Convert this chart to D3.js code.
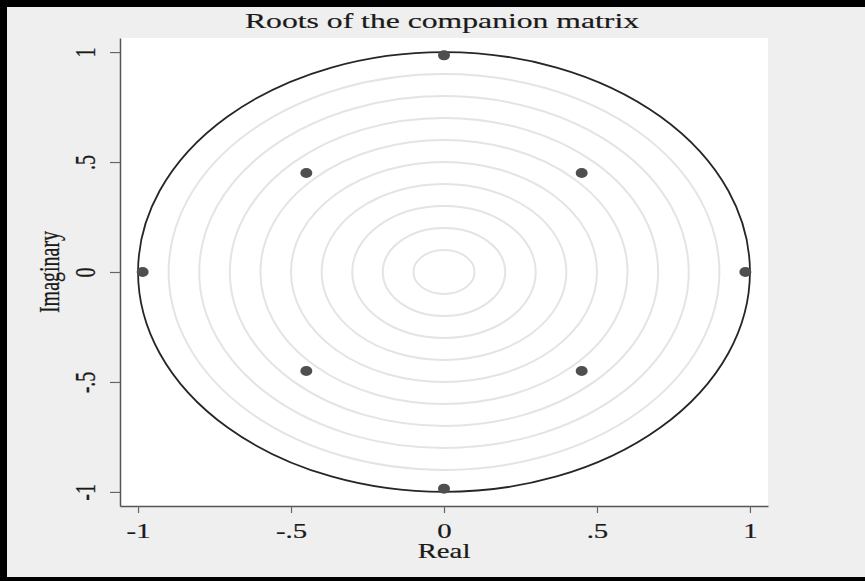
<!DOCTYPE html>
<html>
<head>
<meta charset="utf-8">
<script src="https://cdn.jsdelivr.net/npm/d3@7"></script>
<style>
  body { margin: 0; background: #efefef; }
  svg text { font-family: "Liberation Serif", "DejaVu Serif", serif; fill: #1a1a1a; stroke: #1a1a1a; stroke-width: 0.2; }
</style>
</head>
<body>
<div id="chart"></div>
<script>
// roots of the companion matrix (real, imaginary)
const rootsReal = [0, 0.45, 0.985, 0.45, 0, -0.45, -0.985, -0.45];
const rootsImag = [0.985, 0.45, 0, -0.45, -0.985, -0.45, 0, 0.45];
// reference circles (modulus)
const gridRadii = [0.1, 0.2, 0.3, 0.4, 0.5, 0.6, 0.7, 0.8, 0.9];
const unitRadius = [1];
const tickValues = [-1, -0.5, 0, 0.5, 1];
const tickLabels = ["-1", "-.5", "0", ".5", "1"];

const W = 865, H = 581;
const margin = {top: 38, right: 97, bottom: 75, left: 120};
const width = W - margin.left - margin.right;
const height = H - margin.top - margin.bottom;
const stretch = 1.44; // the original picture is widened horizontally

const root = d3.select("#chart").append("svg")
  .attr("width", W)
  .attr("height", H);

// outer frame
root.append("rect").attr("x", 0).attr("y", 0).attr("width", W).attr("height", H).attr("fill", "#efefef");
root.append("rect").attr("x", 0).attr("y", 0).attr("width", W).attr("height", 7).attr("fill", "#000");
root.append("rect").attr("x", 0).attr("y", 0).attr("width", 7).attr("height", H).attr("fill", "#000");
root.append("rect").attr("x", 0).attr("y", 577).attr("width", W).attr("height", 4).attr("fill", "#000");

const svg = root.append("g")
  .attr("transform", `translate(${margin.left},${margin.top})`);

const xScale = d3.scaleLinear().domain([-1.059, 1.059]).range([0, width]);
const yScale = d3.scaleLinear().domain([-1.064, 1.064]).range([height, 0]);

svg.append("rect")
  .attr("width", width)
  .attr("height", height)
  .attr("fill", "#fff");

// grey rings
svg.append("g").selectAll("ellipse")
  .data(gridRadii)
  .join("ellipse")
  .attr("cx", xScale(0))
  .attr("cy", yScale(0))
  .attr("rx", d => xScale(d) - xScale(0))
  .attr("ry", d => yScale(0) - yScale(d))
  .attr("fill", "none")
  .attr("stroke", "#e4e4e4")
  .attr("stroke-width", 2);

// unit circle
svg.append("g").selectAll("ellipse")
  .data(unitRadius)
  .join("ellipse")
  .attr("cx", xScale(0))
  .attr("cy", yScale(0))
  .attr("rx", d => xScale(d) - xScale(0))
  .attr("ry", d => yScale(0) - yScale(d))
  .attr("fill", "none")
  .attr("stroke", "#262626")
  .attr("stroke-width", 1.8);

// roots
svg.append("g").selectAll("ellipse")
  .data(rootsReal.map((r, i) => ({re: r, im: rootsImag[i]})))
  .join("ellipse")
  .attr("cx", d => xScale(d.re))
  .attr("cy", d => yScale(d.im))
  .attr("rx", 6)
  .attr("ry", 5)
  .attr("fill", "#4f4f4f");

// axes
const xAxis = svg.append("g")
  .attr("transform", `translate(0,${height})`)
  .call(d3.axisBottom(xScale).tickValues(tickValues)
    .tickFormat((d, i) => tickLabels[i]).tickSize(7).tickSizeOuter(0));

const yAxis = svg.append("g")
  .call(d3.axisLeft(yScale).tickValues(tickValues)
    .tickFormat((d, i) => tickLabels[i]).tickSize(10).tickSizeOuter(0));

[xAxis, yAxis].forEach(a => {
  a.select(".domain").attr("stroke", "#555").attr("stroke-width", 1.5);
  a.selectAll(".tick line").attr("stroke", "#666").attr("stroke-width", 1.2);
  a.selectAll("text").attr("font-size", 20).attr("fill", "#1a1a1a")
    .attr("font-family", "Liberation Serif, DejaVu Serif, serif");
});

xAxis.selectAll(".tick text")
  .attr("text-anchor", "middle")
  .attr("y", 0)
  .attr("dy", 0)
  .attr("transform", `translate(0,32) scale(${stretch},1)`);

yAxis.selectAll(".tick text")
  .attr("text-anchor", "middle")
  .attr("x", 0)
  .attr("dy", 0)
  .attr("transform", `translate(-25,0) scale(${stretch},1) rotate(-90)`);

// axis titles
svg.append("text")
  .attr("transform", `translate(${xScale(0)},${height + 52}) scale(${stretch},1)`)
  .attr("text-anchor", "middle")
  .attr("font-size", 20)
  .text("Real");

svg.append("text")
  .attr("transform", `translate(-61,${yScale(0)}) scale(${stretch},1) rotate(-90)`)
  .attr("text-anchor", "middle")
  .attr("font-size", 20)
  .text("Imaginary");

// chart title
svg.append("text")
  .attr("transform", `translate(${xScale(0) - 2},-10) scale(${stretch},1)`)
  .attr("text-anchor", "middle")
  .attr("font-size", 22)
  .text("Roots of the companion matrix");
</script>
</body>
</html>
